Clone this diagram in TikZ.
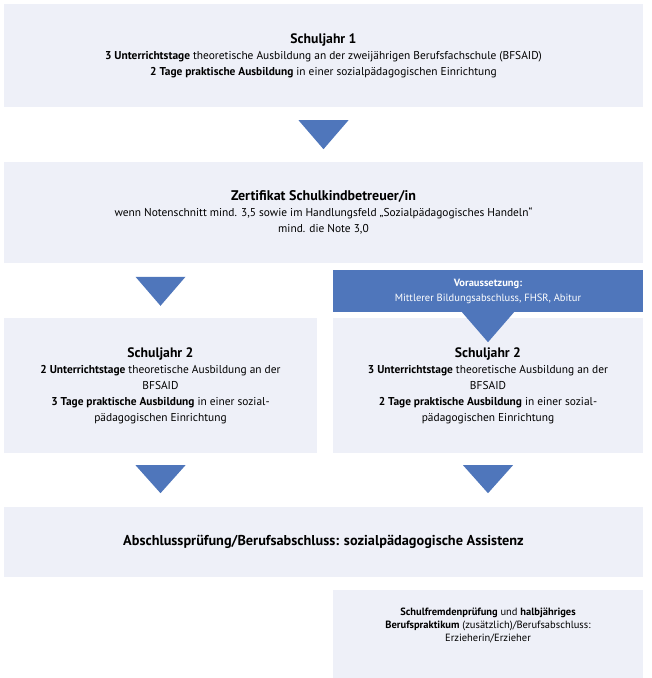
\documentclass[tikz,border=0pt]{standalone}
\usepackage{fontspec}
\setmainfont{PT Sans}
\usetikzlibrary{calc}
\definecolor{boxfill}{HTML}{EEF0F8}
\definecolor{arrowblue}{HTML}{4F76BB}
\tikzset{
  lbox/.style={fill=boxfill, draw=none, inner sep=0pt, align=center,
    font=\fontsize{11.4}{16}\selectfont},
  bbox/.style={fill=arrowblue, draw=none, inner sep=0pt, align=center, text=white,
    font=\fontsize{10.5}{15}\selectfont},
  tri/.style={fill=arrowblue, draw=none},
}
\newcommand{\ttl}[1]{{\fontsize{13.7}{16}\selectfont\bfseries #1}}
\begin{document}
\begin{tikzpicture}[x=1pt,y=-1pt]
\useasboundingbox (0,0) rectangle (652,678);
\node[lbox, minimum width=639pt, minimum height=103pt] (s1) at (323.5,55.5)
  {\ttl{Schuljahr 1}\\
   \textbf{3 Unterrichtstage} theoretische Ausbildung an der zweijährigen Berufsfachschule (BFSAID)\\
   \textbf{2 Tage praktische Ausbildung} in einer sozialpädagogischen Einrichtung};
\node[lbox, minimum width=639pt, minimum height=101pt] (zert) at (323.5,212.5)
  {{\fontsize{14}{16}\selectfont\bfseries Zertifikat Schulkindbetreuer/in}\\
   wenn Notenschnitt mind. 3,5 sowie im Handlungsfeld „Sozialpädagogisches Handeln“\\
   mind. die Note 3,0};
\node[lbox, minimum width=313pt, minimum height=135pt] (s2l) at (160.5,385.5)
  {\ttl{Schuljahr 2}\\
   \textbf{2 Unterrichtstage} theoretische Ausbildung an der\\
   BFSAID\\
   \textbf{3 Tage praktische Ausbildung} in einer sozial-\\
   pädagogischen Einrichtung};
\node[lbox, minimum width=310pt, minimum height=135pt] (s2r) at (488,385.5)
  {\ttl{Schuljahr 2}\\
   \textbf{3 Unterrichtstage} theoretische Ausbildung an der\\
   BFSAID\\
   \textbf{2 Tage praktische Ausbildung} in einer sozial-\\
   pädagogischen Einrichtung};
\node[bbox, minimum width=310pt, minimum height=42pt] (vor) at (488,291)
  {\textbf{Voraussetzung:}\\Mittlerer Bildungsabschluss, FHSR, Abitur};
\node[lbox, minimum width=639pt, minimum height=70pt] (abs) at (323.5,542)
  {{\fontsize{14.3}{16}\selectfont\bfseries Abschlussprüfung/Berufsabschluss: sozialpädagogische Assistenz}};
\node[lbox, minimum width=310pt, minimum height=88pt, font=\fontsize{10.5}{13}\selectfont] (erz) at (488,634)
  {\textbf{Schulfremdenprüfung} und \textbf{halbjähriges}\\
   \textbf{Berufspraktikum} (zusätzlich)/Berufsabschluss:\\
   Erzieherin/Erzieher\\[6pt]};
% arrows
\fill[tri] ($(s1.south)+(-25,13)$) -- ($(s1.south)+(25,13)$) -- ($(s1.south)+(0,42)$) -- cycle;
\fill[tri] ($(s2l.north)+(-25,-41)$) -- ($(s2l.north)+(25,-41)$) -- ($(s2l.north)+(0,-12)$) -- cycle;
\fill[tri] ($(vor.south)+(-26,0)$) -- ($(vor.south)+(26,0)$) -- ($(vor.south)+(0,30)$) -- cycle;
\fill[tri] ($(s2l.south)+(-25,12)$) -- ($(s2l.south)+(25,12)$) -- ($(s2l.south)+(0,40)$) -- cycle;
\fill[tri] ($(s2r.south)+(-25,12)$) -- ($(s2r.south)+(25,12)$) -- ($(s2r.south)+(0,40)$) -- cycle;
\end{tikzpicture}
\end{document}
